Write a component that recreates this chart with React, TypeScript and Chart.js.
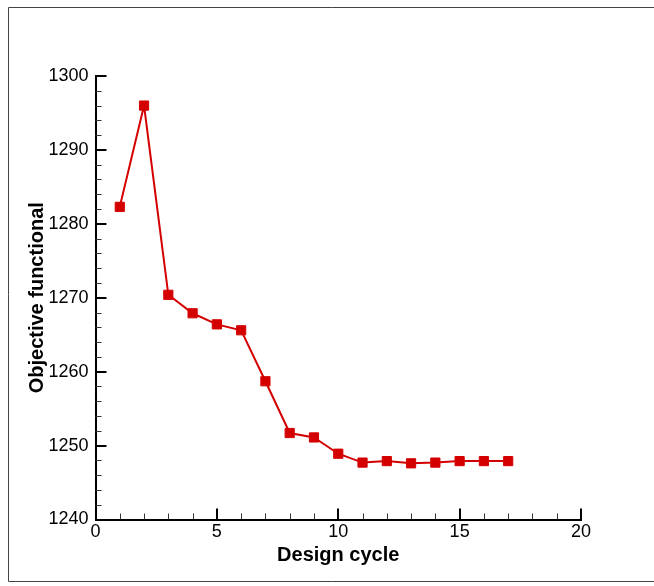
import React, { useEffect, useRef } from "react";
import { Chart, registerables } from "chart.js";

Chart.register(...registerables);

const cycles = [1, 2, 3, 4, 5, 6, 7, 8, 9, 10, 11, 12, 13, 14, 15, 16, 17];
const objective = [
  1282.3, 1296.0, 1270.4, 1267.9, 1266.4, 1265.6, 1258.7, 1251.7, 1251.1,
  1248.9, 1247.7, 1247.9, 1247.6, 1247.7, 1247.9, 1247.9, 1247.9,
];
const xTickValues = [0, 5, 10, 15, 20];
const yTickValues = [1240, 1250, 1260, 1270, 1280, 1290, 1300];

const RED = "rgb(212,0,0)";
const FONT = "'Liberation Sans', Arial, Helvetica, sans-serif";

const innerTicks = {
  id: "innerTicks",
  afterDraw(chart: any) {
    const ctx = chart.ctx;
    const xs = chart.scales.x;
    const ys = chart.scales.y;
    const area = chart.chartArea;
    ctx.save();
    for (let v = ys.min; v <= ys.max + 1e-9; v += 2) {
      const major = Math.abs(v % 10) < 1e-9;
      const py = Math.round(ys.getPixelForValue(v)) + (major ? 0 : 0.5);
      ctx.beginPath();
      ctx.strokeStyle = major ? "#000" : "#333";
      ctx.lineWidth = major ? 2 : 1;
      ctx.moveTo(area.left, py);
      ctx.lineTo(area.left + (major ? 11 : 6), py);
      ctx.stroke();
    }
    for (let v = xs.min; v <= xs.max + 1e-9; v += 1) {
      const major = Math.abs(v % 5) < 1e-9;
      const px = Math.round(xs.getPixelForValue(v)) + (major ? 0 : 0.5);
      ctx.beginPath();
      ctx.strokeStyle = major ? "#000" : "#333";
      ctx.lineWidth = major ? 2 : 1;
      ctx.moveTo(px, area.bottom);
      ctx.lineTo(px, area.bottom - (major ? 11 : 6));
      ctx.stroke();
    }
    ctx.beginPath();
    ctx.strokeStyle = "#444";
    ctx.lineWidth = 1;
    ctx.rect(8.5, 7.5, 700, 574);
    ctx.stroke();
    ctx.restore();
  },
};

export default function App() {
  const ref = useRef<HTMLCanvasElement | null>(null);
  useEffect(() => {
    if (!ref.current) return;
    const chart = new Chart(ref.current, {
      type: "line",
      data: {
        datasets: [
          {
            data: cycles.map((c, i) => ({ x: c, y: objective[i] })),
            borderColor: RED,
            backgroundColor: RED,
            borderWidth: 2,
            pointStyle: "rect",
            pointRadius: 6.5,
            pointBorderWidth: 1,
            pointBorderColor: RED,
            pointBackgroundColor: RED,
            tension: 0,
          },
        ],
      },
      options: {
        animation: false,
        responsive: false,
        maintainAspectRatio: false,
        layout: { padding: { left: 0, top: 76, right: 73, bottom: 0 } },
        plugins: { legend: { display: false }, tooltip: { enabled: false } },
        scales: {
          x: {
            type: "linear",
            min: 0,
            max: 20,
            afterBuildTicks: (s: any) => {
              s.ticks = xTickValues.map((v) => ({ value: v }));
            },
            afterFit: (s: any) => {
              s.height = 66.5;
            },
            grid: { display: false, drawTicks: false },
            border: { display: true, color: "#000", width: 2 },
            ticks: {
              color: "#000",
              font: { family: FONT, size: 18 },
              padding: 2,
              maxRotation: 0,
              callback: (v: any) => String(v),
            },
            title: {
              display: true,
              text: "Design cycle",
              color: "#000",
              font: { family: FONT, size: 20, weight: "bold" },
              padding: { top: 0, bottom: 19 },
            },
          },
          y: {
            type: "linear",
            min: 1240,
            max: 1300,
            afterBuildTicks: (s: any) => {
              s.ticks = yTickValues.map((v) => ({ value: v }));
            },
            afterFit: (s: any) => {
              s.width = 95.5;
            },
            grid: { display: false, drawTicks: false },
            border: { display: true, color: "#000", width: 2 },
            ticks: {
              color: "#000",
              font: { family: FONT, size: 18 },
              padding: 7,
              callback: (v: any) => String(v),
            },
            title: {
              display: true,
              text: "Objective functional",
              color: "#000",
              font: { family: FONT, size: 20, weight: "bold" },
              padding: { top: 25.5, bottom: 0 },
            },
          },
        },
      },
      plugins: [innerTicks],
    } as any);
    return () => chart.destroy();
  }, []);
  return (
    <div
      style={{
        position: "fixed",
        left: 0,
        top: 0,
        width: 654,
        height: 586,
        background: "#fff",
      }}
    >
      <canvas ref={ref} width={654} height={586} style={{ width: 654, height: 586, display: "block" }} />
    </div>
  );
}
